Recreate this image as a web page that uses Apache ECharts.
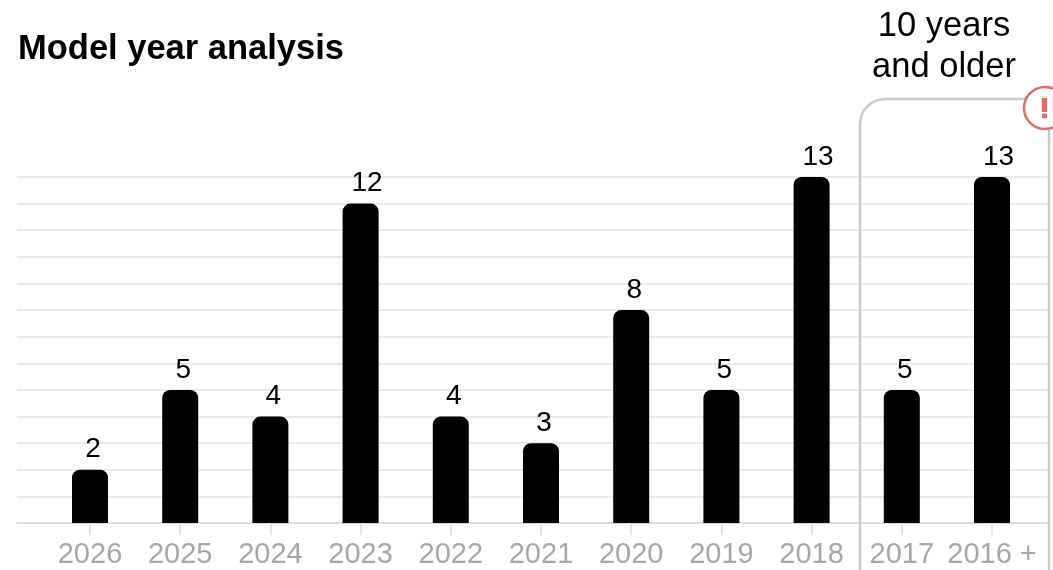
<!DOCTYPE html>
<html>
<head>
<meta charset="utf-8">
<style>html,body{margin:0;padding:0;background:#fff}#chart{width:1053px;height:570px}</style>
<script src="https://cdn.jsdelivr.net/npm/echarts@6/dist/echarts.min.js"></script>
</head>
<body>
<div id="chart"></div>
<script>
const modelYears = ['2026','2025','2024','2023','2022','2021','2020','2019','2018','2017','2016 +'];
const vehicleCounts = [2,5,4,12,4,3,8,5,13,5,13];
const olderGroupLines = ['10 years','and older'];

const FONT = '"Liberation Sans", Arial, sans-serif';
const BRACKET = {stroke:'#cdc9c9',lineWidth:2.5,fill:'none'};
const chart = echarts.init(document.getElementById('chart'), null, {renderer:'canvas'});

chart.setOption({
  animation:false,
  backgroundColor:'#fff',
  title:{
    text:'Model year analysis', left:18, top:30, padding:0,
    textStyle:{fontFamily:FONT,fontSize:34.5,fontWeight:'bold',color:'#000',lineHeight:38}
  },
  // Grid 0 carries the full-width rules, grid 1 the inset bars.
  grid:[
    {left:17,right:5,top:177,height:346},
    {left:44.9,width:992.2,top:177,height:346}
  ],
  xAxis:[
    {gridIndex:0,type:'value',min:0,max:1,
      axisLine:{show:true,lineStyle:{color:'#e0dcdc',width:2}},
      axisTick:{show:false},axisLabel:{show:false},splitLine:{show:false}},
    {gridIndex:1,type:'category',data:modelYears,
      axisLine:{show:false},
      axisTick:{show:true,alignWithLabel:true,length:12,lineStyle:{color:'#e6e3e3',width:2}},
      axisLabel:{interval:0,fontFamily:FONT,fontSize:29,color:'#aba6a4',margin:17,hideOverlap:false}}
  ],
  yAxis:[
    {gridIndex:0,type:'value',min:0,max:13,interval:1,
      axisLine:{show:false},axisTick:{show:false},axisLabel:{show:false},
      splitLine:{show:true,lineStyle:{color:'#ebe9e9',width:2}}},
    {gridIndex:1,type:'value',min:0,max:13,interval:1,show:false,splitLine:{show:false}}
  ],
  series:[{
    type:'bar',xAxisIndex:1,yAxisIndex:1,barWidth:36,z:5,
    // Value labels sit slightly right of the bar centre, more so for two digits
    data:vehicleCounts.map(v => ({value:v,label:{offset:[v >= 10 ? 6.5 : 3,0]}})),
    itemStyle:{color:'#000',borderRadius:[8,8,0,0]},
    label:{show:true,position:'top',distance:6,fontFamily:FONT,fontSize:28,color:'#000'}
  }],
  graphic:[
    {type:'text',z:10,style:{x:944,y:26,text:olderGroupLines[0],font:'34.5px '+FONT,fill:'#000',align:'center',verticalAlign:'middle'}},
    {type:'text',z:10,style:{x:944,y:67,text:olderGroupLines[1],font:'34.5px '+FONT,fill:'#000',align:'center',verticalAlign:'middle'}},
    // Bracket around the oldest model years
    {type:'line',z:6,shape:{x1:860,y1:570,x2:860,y2:124},style:BRACKET},
    {type:'arc',z:6,shape:{cx:885,cy:124,r:25,startAngle:Math.PI,endAngle:Math.PI*1.5},style:BRACKET},
    {type:'line',z:6,shape:{x1:885,y1:99,x2:1049,y2:99},style:BRACKET},
    {type:'line',z:6,shape:{x1:1049,y1:99,x2:1049,y2:570},style:BRACKET},
    // Warning badge
    {type:'circle',z:7,shape:{cx:1045,cy:108,r:21},style:{fill:'#fff',stroke:'#e26a68',lineWidth:2.5}},
    {type:'rect',z:8,shape:{x:1041.8,y:98,width:5.4,height:14},style:{fill:'#e26a68'}},
    {type:'rect',z:8,shape:{x:1042,y:113.5,width:5,height:4.8},style:{fill:'#e26a68'}}
  ]
});
</script>
</body>
</html>
